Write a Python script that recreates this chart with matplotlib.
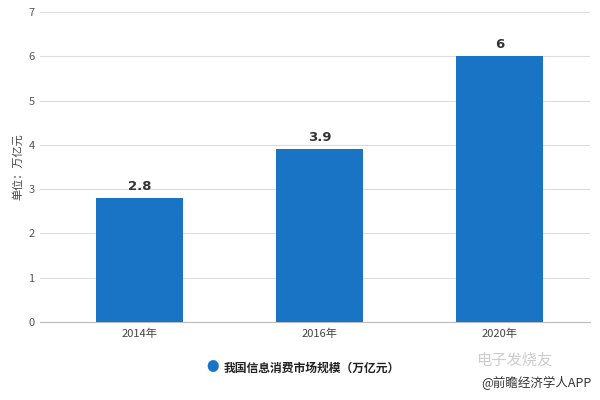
import numpy as np
import matplotlib.pyplot as plt

plt.rcParams['font.family'] = ['Noto Sans CJK SC', 'DejaVu Sans']

years = ['2014年', '2016年', '2020年']
values = [2.8, 3.9, 6]
value_labels = ['2.8', '3.9', '6']
yticks = [0, 1, 2, 3, 4, 5, 6, 7]

bar_color = '#1a74c6'

fig = plt.figure(figsize=(6, 4), dpi=100)
ax = fig.add_axes([0.067, 0.195, 0.916, 0.775])

x = np.arange(len(years))
ax.bar(x, values, width=0.48, color=bar_color, zorder=3)

for xi, v, lab in zip(x, values, value_labels):
    ax.text(xi, v + 0.12, lab, ha='center', va='bottom', fontsize=9.5,
            fontweight='bold', color='#333333', family='DejaVu Sans')

ax.set_xlim(-0.55, 2.5)
ax.set_ylim(0, 7)
ax.set_yticks(yticks)
ax.set_xticks(x)
ax.set_xticklabels(years, fontsize=8, color='#444444')
ax.tick_params(axis='y', length=0, labelsize=8, labelcolor='#555555', pad=4)
ax.tick_params(axis='x', length=0, pad=5)
ax.grid(axis='y', color='#dddddd', linewidth=0.8, zorder=0)

for side in ['top', 'right', 'left']:
    ax.spines[side].set_visible(False)
ax.spines['bottom'].set_color('#bbbbbb')

ax.set_ylabel('单位：万亿元', fontsize=8, color='#444444', labelpad=4)

# legend
fig.text(0.355, 0.08, '●', color=bar_color, fontsize=9, ha='center', va='center')
fig.text(0.373, 0.08, '我国信息消费市场规模（万亿元）', fontsize=8.5, fontweight='bold',
         color='#222222', ha='left', va='center')

# watermark text
fig.text(0.985, 0.025, '@前瞻经济学人APP', fontsize=9, color='#333333', ha='right', va='bottom')
fig.text(0.92, 0.1, '电子发烧友', fontsize=11, color='#cccccc', ha='right', va='center',
         style='italic')

fig.savefig('out.png', dpi=100)
